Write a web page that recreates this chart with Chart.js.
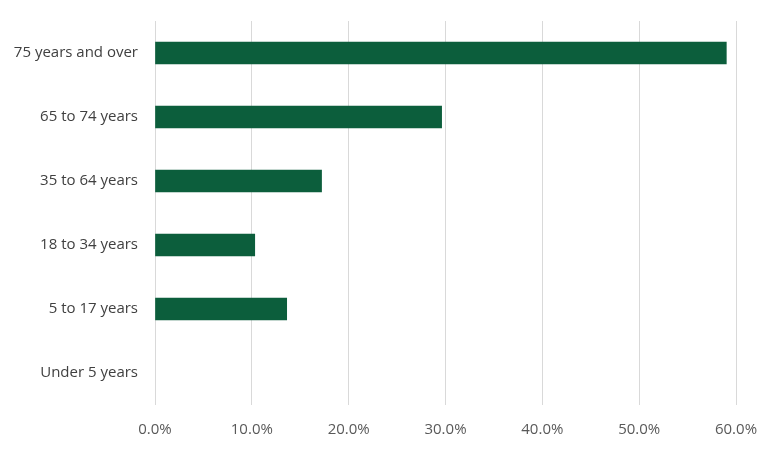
<!DOCTYPE html>
<html>
<head>
<meta charset="utf-8">
<script src="https://cdn.jsdelivr.net/npm/chart.js@4"></script>
<style>
  html, body { margin: 0; padding: 0; background: #fff; }
  #wrap { width: 769px; height: 449px; }
</style>
</head>
<body>
<div id="wrap"><canvas id="chart"></canvas></div>
<script>
const ageGroups = ['75 years and over', '65 to 74 years', '35 to 64 years', '18 to 34 years', '5 to 17 years', 'Under 5 years'];
const shares = [59.0, 29.6, 17.2, 10.3, 13.6, 0];
const xTicks = [0, 10, 20, 30, 40, 50, 60];

const fontFamily = "'Open Sans', 'Liberation Sans', sans-serif";

new Chart(document.getElementById('chart'), {
  type: 'bar',
  data: {
    labels: ageGroups,
    datasets: [{
      data: shares,
      backgroundColor: ctx => ctx.raw > 0 ? '#0c5e3c' : 'rgba(0,0,0,0)',
      barThickness: 22
    }]
  },
  options: {
    indexAxis: 'y',
    responsive: true,
    maintainAspectRatio: false,
    animation: false,
    layout: { padding: { top: 21, right: 33, left: 0, bottom: 0 } },
    plugins: { legend: { display: false }, tooltip: { enabled: false } },
    scales: {
      x: {
        min: 0,
        max: 60,
        afterBuildTicks: axis => { axis.ticks = xTicks.map(v => ({ value: v })); },
        afterFit: axis => {
          axis.height = 44;
          axis.paddingLeft = 0;
          axis.paddingRight = 0;
        },
        grid: { color: '#d9d9d9', drawTicks: false },
        border: { display: false },
        ticks: {
          color: '#595959',
          font: { family: fontFamily, size: 15 },
          padding: 16,
          callback: v => v.toFixed(1) + '%'
        }
      },
      y: {
        afterFit: axis => {
          axis.width = 155;
          axis.paddingTop = 0;
          axis.paddingBottom = 0;
        },
        grid: { display: false, drawTicks: false },
        border: { display: false },
        ticks: { color: '#404040', font: { family: fontFamily, size: 15 }, padding: 17 }
      }
    }
  }
});
</script>
</body>
</html>
